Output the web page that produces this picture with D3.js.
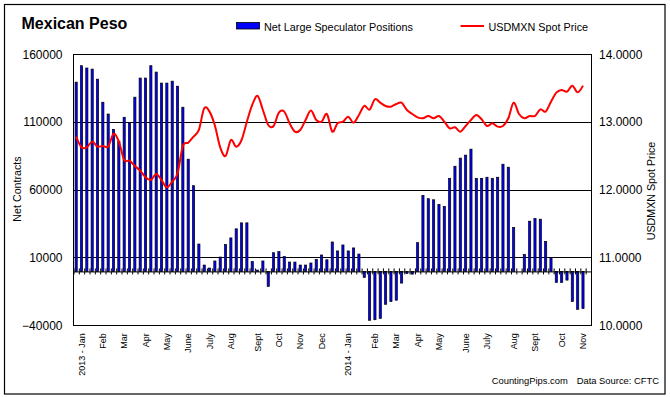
<!DOCTYPE html>
<html>
  <head>
    <meta charset="utf-8" />
    <script src="https://cdn.jsdelivr.net/npm/d3@7/dist/d3.min.js"></script>
    <style>
      body {
        margin: 0;
        background: #fff;
      }
      svg text {
        font-family: Arial, "Liberation Sans", sans-serif;
        fill: #000;
      }
    </style>
  </head>
  <body>
    <svg id="chart" width="670" height="397"></svg>

    <script type="text/javascript">
      // weekly net large speculator positions, Jan 2013 - Nov 2014 (null = no report)
      var positions = [
        139500, 151600, 149900, 149100, 141700, 124700, 116000, 104700, 96000, 113600,
        109600, 128400, 142500, 142500, 151600, 146900, 138800, 138800, 140200, 136500,
        121000, 82700, 63200, 20200, 4700, 2500, 7700, 10600, 19800, 24700,
        31400, 35800, 35800, 7200, 1000, 7700, -11100, 13800, 14600, 10900,
        6900, 6900, 4700, 4700, 6200, 8900, 12100, 8600, 21700, 15100,
        19500, 15100, 17300, 12800, -4400, -36000, -35600, -34600, -24200, -22200,
        -21200, -8600, -1500, -2000, 21200, 56000, 53600, 52800, 49400, 47900,
        68600, 77500, 83500, 85700, 90100, 68600, 68600, 69400, 68600, 69400,
        79000, 76800, 32300, null, 12600, 37000, 39000, 38500, 22000, 10100,
        -8100, -8100, -6400, -22200, -27900, -27400, null
      ];

      // USDMXN spot price, same weeks
      var spotPrice = [
        12.786, 12.629, 12.629, 12.713, 12.639, 12.649, 12.639, 12.826, 12.713, 12.442,
        12.432, 12.354, 12.285, 12.187, 12.147, 12.236, 12.147, 12.039, 12.123, 12.246,
        12.649, 12.698, 12.786, 12.885, 13.204, 13.155, 12.95, 12.629, 12.501, 12.737,
        12.639, 12.737, 13.007, 13.253, 13.386, 13.179, 12.958, 12.943, 13.14, 13.155,
        12.983, 12.86, 12.885, 13.032, 13.17, 13.032, 13.007, 13.12, 12.86, 12.983,
        13.007, 13.081, 12.993, 13.106, 13.24, 13.185, 13.337, 13.287, 13.238, 13.228,
        13.268, 13.287, 13.179, 13.12, 13.071, 13.057, 13.091, 13.057, 13.091, 13.007,
        12.909, 12.924, 12.86, 12.943, 13.032, 13.106, 13.042, 12.943, 12.983, 12.934,
        12.943, 13.057, 13.287, 13.12, 13.057, 13.091, 13.091, 13.189, 13.155, 13.302,
        13.435, 13.474, 13.45, 13.538, 13.44, 13.538
      ];

      var monthLabels = [
        "2013 - Jan", "Feb", "Mar", "Apr", "May", "June", "July", "Aug", "Sept",
        "Oct", "Nov", "Dec", "2014 - Jan", "Feb", "Mar", "Apr", "May", "June",
        "July", "Aug", "Sept", "Oct", "Nov"
      ];
      // week index where each month label sits
      var monthWeek = [
        1, 5, 9, 13, 17, 21, 25, 29, 34, 38, 42, 46, 51, 56, 60, 64, 68, 73, 77,
        82, 86, 91, 95
      ];

      var contractTicks = [-40000, 10000, 60000, 110000, 160000];
      var gridTicks = [10000, 60000, 110000];
      var priceTicks = [10, 11, 12, 13, 14];

      function draw() {
        "use strict";

        var svg = d3.select("#chart");

        var plotLeft = 73.5,
          plotRight = 591,
          plotTop = 54.3,
          plotBottom = 325.7;

        var weeks = d3.range(positions.length);

        var x = d3
          .scaleBand()
          .domain(weeks)
          .range([plotLeft, plotRight])
          .paddingInner(0.5)
          .paddingOuter(0.25);

        // band edges, for the crossing tick marks on the zero line
        var xEdge = d3
          .scaleLinear()
          .domain([0, weeks.length])
          .range([plotLeft, plotRight]);

        var y = d3
          .scaleLinear()
          .domain([-40000, 160000])
          .range([plotBottom, plotTop]);

        var yPrice = d3
          .scaleLinear()
          .domain([10, 14])
          .range([plotBottom, plotTop]);

        // outer frame
        svg
          .append("rect")
          .attr("x", 4.5)
          .attr("y", 4.5)
          .attr("width", 660.5)
          .attr("height", 389.5)
          .style("fill", "none")
          .style("stroke", "black")
          .style("stroke-width", 1.2);

        // gridlines
        svg
          .append("g")
          .selectAll("line")
          .data(gridTicks)
          .enter()
          .append("line")
          .attr("x1", plotLeft)
          .attr("x2", plotRight)
          .attr("y1", d => y(d))
          .attr("y2", d => y(d))
          .style("stroke", "black")
          .style("shape-rendering", "crispEdges");

        // bars
        var barW = x.bandwidth() - 0.5;
        svg
          .append("g")
          .selectAll("rect")
          .data(positions.map((v, i) => ({ i, v })).filter(d => d.v !== null))
          .enter()
          .append("rect")
          .attr("x", d => x(d.i) + (x.bandwidth() - barW) / 2)
          .attr("width", barW)
          .attr("y", d => y(Math.max(0, d.v)))
          .attr("height", d => Math.abs(y(d.v) - y(0)))
          .style("fill", "#0000ff")
          .style("stroke", "black")
          .style("stroke-width", 0.7);

        // zero line with crossing ticks
        var edges = d3.range(weeks.length + 1);
        svg
          .append("g")
          .attr("transform", `translate(0,${y(0)})`)
          .call(
            d3
              .axisBottom(xEdge)
              .tickValues(edges)
              .tickSize(3)
              .tickSizeOuter(0)
              .tickFormat("")
          )
          .call(g => g.selectAll("line,path").style("stroke", "black"));
        svg
          .append("g")
          .attr("transform", `translate(0,${y(0)})`)
          .call(d3.axisTop(xEdge).tickValues(edges).tickSize(3).tickFormat(""))
          .call(g => g.select(".domain").remove())
          .call(g => g.selectAll("line").style("stroke", "black"));

        // price line
        var line = d3
          .line()
          .x((d, i) => x(i) + x.bandwidth() / 2)
          .y(d => yPrice(d))
          .curve(d3.curveCardinal.tension(0));

        svg
          .append("path")
          .datum(spotPrice)
          .attr("d", line)
          .style("fill", "none")
          .style("stroke", "#ff0000")
          .style("stroke-width", 2);

        // plot frame
        svg
          .append("rect")
          .attr("x", plotLeft)
          .attr("y", plotTop)
          .attr("width", plotRight - plotLeft)
          .attr("height", plotBottom - plotTop)
          .style("fill", "none")
          .style("stroke", "black")
          .style("shape-rendering", "crispEdges");

        // left axis
        svg
          .append("g")
          .attr("transform", `translate(${plotLeft},0)`)
          .call(
            d3
              .axisLeft(y)
              .tickValues(contractTicks)
              .tickSize(0)
              .tickPadding(11)
              .tickFormat(d3.format("d"))
          )
          .call(g => g.select(".domain").remove())
          .selectAll("text")
          .style("font-size", "12px");

        // right axis
        svg
          .append("g")
          .attr("transform", `translate(${plotRight},0)`)
          .call(
            d3
              .axisRight(yPrice)
              .tickValues(priceTicks)
              .tickSize(0)
              .tickPadding(8)
              .tickFormat(d3.format(".4f"))
          )
          .call(g => g.select(".domain").remove())
          .selectAll("text")
          .style("font-size", "12px");

        // month labels under the plot
        var labelOf = {};
        monthWeek.forEach((w, k) => (labelOf[w] = monthLabels[k]));

        svg
          .append("g")
          .attr("transform", `translate(0,${plotBottom})`)
          .call(
            d3
              .axisBottom(x)
              .tickValues(monthWeek)
              .tickSize(0)
              .tickFormat(d => labelOf[d])
          )
          .call(g => g.select(".domain").remove())
          .selectAll("text")
          .style("font-size", "9px")
          .style("text-anchor", "end")
          .attr("transform", "rotate(-90)")
          .attr("x", -7.5)
          .attr("y", 0)
          .attr("dy", "0.35em");

        // axis titles
        svg
          .append("text")
          .attr("transform", "translate(20.5,189) rotate(-90)")
          .style("text-anchor", "middle")
          .style("font-size", "10.7px")
          .text("Net Contracts");

        svg
          .append("text")
          .attr("transform", "translate(654.5,191) rotate(-90)")
          .style("text-anchor", "middle")
          .style("font-size", "10.7px")
          .text("USDMXN Spot Price");

        // title
        svg
          .append("text")
          .attr("x", 21.5)
          .attr("y", 29.3)
          .style("font-size", "16px")
          .style("font-weight", "bold")
          .text("Mexican Peso");

        // legend
        var legend = svg.append("g").style("font-size", "10.8px");

        legend
          .append("rect")
          .attr("x", 236.5)
          .attr("y", 22.5)
          .attr("width", 23)
          .attr("height", 6.5)
          .style("fill", "#0000ff")
          .style("stroke", "black")
          .style("stroke-width", 0.8);

        legend
          .append("text")
          .attr("x", 264)
          .attr("y", 30.5)
          .text("Net Large Speculator Positions");

        legend
          .append("line")
          .attr("x1", 460.5)
          .attr("x2", 484)
          .attr("y1", 26)
          .attr("y2", 26)
          .style("stroke", "#ff0000")
          .style("stroke-width", 2);

        legend
          .append("text")
          .attr("x", 488.5)
          .attr("y", 30.5)
          .text("USDMXN Spot Price");

        // source note
        svg
          .append("text")
          .attr("x", 491.7)
          .attr("y", 383.7)
          .style("font-size", "9.4px")
          .text("CountingPips.com");

        svg
          .append("text")
          .attr("x", 576.7)
          .attr("y", 383.7)
          .style("font-size", "9.4px")
          .text("Data Source: CFTC");
      }

      draw();
    </script>
  </body>
</html>
